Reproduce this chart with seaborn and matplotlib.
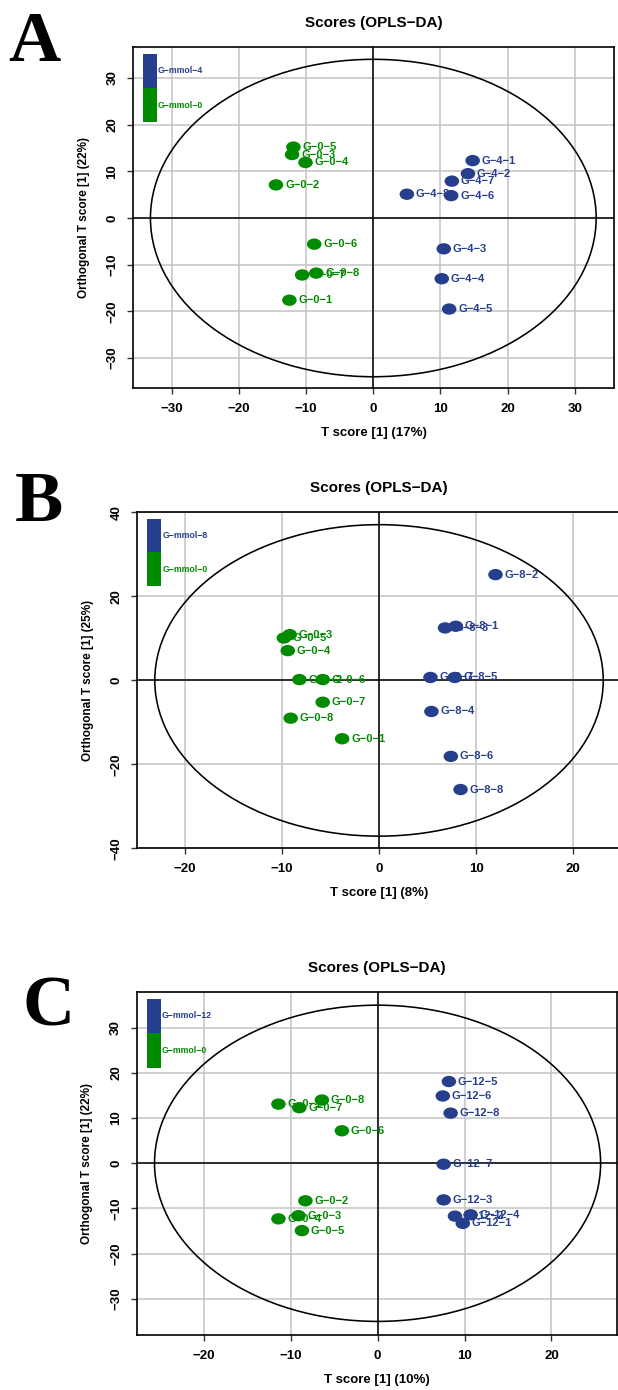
import numpy as np
import pandas as pd
import matplotlib
matplotlib.use("Agg")
import matplotlib.pyplot as plt
from matplotlib.patches import Ellipse, Rectangle
from matplotlib.path import Path
from matplotlib.transforms import Affine2D
import seaborn as sns

# ---- Panel A : G-mmol-4 vs G-mmol-0 ----
a_groups = ["G-mmol-4", "G-mmol-0"]
a_ctrl_names = ["G-0-1", "G-0-2", "G-0-3", "G-0-4", "G-0-5", "G-0-6", "G-0-7", "G-0-8"]
a_ctrl_t = [-12.5, -14.5, -12.1, -10.1, -11.9, -8.8, -10.6, -8.5]
a_ctrl_o = [-17.6, 7.1, 13.6, 11.9, 15.2, -5.6, -12.2, -11.8]
a_trt_names = ["G-4-1", "G-4-2", "G-4-3", "G-4-4", "G-4-5", "G-4-6", "G-4-7", "G-4-8"]
a_trt_t = [14.8, 14.1, 10.5, 10.2, 11.3, 11.6, 11.7, 5.0]
a_trt_o = [12.3, 9.5, -6.6, -13.0, -19.5, 4.8, 7.9, 5.1]
a_pct = (17, 22)
a_ellipse = (33.2, 34.0)

# ---- Panel B : G-mmol-8 vs G-mmol-0 ----
b_groups = ["G-mmol-8", "G-mmol-0"]
b_ctrl_names = ["G-0-1", "G-0-2", "G-0-3", "G-0-4", "G-0-5", "G-0-6", "G-0-7", "G-0-8"]
b_ctrl_t = [-3.8, -8.2, -9.2, -9.4, -9.8, -5.8, -5.8, -9.1]
b_ctrl_o = [-13.9, 0.2, 10.9, 7.1, 10.1, 0.2, -5.2, -9.0]
b_trt_names = ["G-8-1", "G-8-2", "G-8-3", "G-8-4", "G-8-5", "G-8-6", "G-8-7", "G-8-8"]
b_trt_t = [7.9, 12.0, 6.8, 5.4, 7.8, 7.4, 5.3, 8.4]
b_trt_o = [12.9, 25.2, 12.5, -7.4, 0.7, -18.1, 0.7, -26.0]
b_pct = (8, 25)
b_ellipse = (23.1, 37.1)

# ---- Panel C : G-mmol-12 vs G-mmol-0 ----
c_groups = ["G-mmol-12", "G-mmol-0"]
c_ctrl_names = ["G-0-1", "G-0-2", "G-0-3", "G-0-4", "G-0-5", "G-0-6", "G-0-7", "G-0-8"]
c_ctrl_t = [-11.4, -8.3, -9.1, -11.4, -8.7, -4.1, -9.0, -6.4]
c_ctrl_o = [13.1, -8.3, -11.6, -12.3, -14.9, 7.2, 12.3, 14.0]
c_trt_names = ["G-12-1", "G-12-2", "G-12-3", "G-12-4", "G-12-5", "G-12-6", "G-12-7", "G-12-8"]
c_trt_t = [9.8, 8.9, 7.6, 10.7, 8.2, 7.5, 7.6, 8.4]
c_trt_o = [-13.3, -11.7, -8.1, -11.4, 18.1, 14.9, -0.2, 11.1]
c_pct = (10, 22)
c_ellipse = (25.65, 35.0)

BLUE = "#263F8C"
GREEN = "#008B00"
MINUS = "\u2212"

sns.set_style("ticks")
plt.rcParams["font.family"] = ["Liberation Sans", "DejaVu Sans"]
plt.rcParams["font.weight"] = "bold"
plt.rcParams["axes.linewidth"] = 1.2
plt.rcParams["text.color"] = "black"
plt.rcParams["axes.labelcolor"] = "black"
plt.rcParams["xtick.labelcolor"] = "black"
plt.rcParams["ytick.labelcolor"] = "black"

# slightly flattened dot, like the stretched R output
dot = Path.unit_circle().transformed(Affine2D().scale(1.0, 0.78))


def panel(fig, rect, groups, ctrl, trt, pct, ell, xlim, ylim, xticks, yticks):
    ax = fig.add_axes(rect)
    df = pd.DataFrame({
        "name": trt[0] + ctrl[0],
        "t": trt[1] + ctrl[1],
        "o": trt[2] + ctrl[2],
        "group": [groups[0]] * len(trt[0]) + [groups[1]] * len(ctrl[0]),
    })
    ax.set_xlim(*xlim)
    ax.set_ylim(*ylim)
    ax.set_xticks(xticks)
    ax.set_yticks(yticks)
    ax.grid(True, color="#C4C4C4", lw=1.1)
    ax.set_axisbelow(True)
    ax.axhline(0, color="black", lw=1.1, zorder=1)
    ax.axvline(0, color="black", lw=1.1, zorder=1)
    ax.add_patch(Ellipse((0, 0), 2 * ell[0], 2 * ell[1], fill=False,
                         ec="black", lw=1.15, zorder=1.5))

    pal = {groups[0]: BLUE, groups[1]: GREEN}
    for _, r in df.iterrows():
        ax.annotate(r["name"].replace("-", MINUS), (r["t"], r["o"]),
                    xytext=(6.5, 0), textcoords="offset points",
                    va="center", ha="left", fontsize=8, fontweight="bold",
                    color=pal[r["group"]], zorder=2)
    sns.scatterplot(data=df, x="t", y="o", hue="group", palette=pal,
                    marker=dot, s=110, linewidth=0, legend=False, ax=ax, zorder=3)

    # colour bar legend, top-left
    ax.add_patch(Rectangle((0.021, 0.879), 0.029, 0.099, transform=ax.transAxes,
                           color=BLUE, lw=0, zorder=4))
    ax.add_patch(Rectangle((0.021, 0.779), 0.029, 0.100, transform=ax.transAxes,
                           color=GREEN, lw=0, zorder=4))
    ax.text(0.052, 0.93, groups[0].replace("-", MINUS), transform=ax.transAxes,
            fontsize=6.3, color=BLUE, va="center", zorder=5)
    ax.text(0.052, 0.829, groups[1].replace("-", MINUS), transform=ax.transAxes,
            fontsize=6.3, color=GREEN, va="center", zorder=5)

    ax.set_title("Scores (OPLS" + MINUS + "DA)", fontsize=11, fontweight="bold", pad=14)
    ax.set_xlabel("T score [1] (%d%%)" % pct[0], fontsize=9.5, fontweight="bold", labelpad=9)
    ax.set_ylabel("Orthogonal T score [1] (%d%%)" % pct[1], fontsize=8.5,
                  fontweight="bold", labelpad=12)
    ax.tick_params(length=4.5, width=1, pad=6, labelsize=9.5, color="#333333")
    for lab in ax.get_yticklabels():
        lab.set_rotation(90)
        lab.set_va("center")
    for sp in ax.spines.values():
        sp.set_visible(True)
        sp.set_color("black")
    return ax


fig = plt.figure(figsize=(6.18, 13.9), dpi=100)

panel(fig, [0.2152, 0.7209, 0.7788, 0.2455], a_groups,
      (a_ctrl_names, a_ctrl_t, a_ctrl_o), (a_trt_names, a_trt_t, a_trt_o),
      a_pct, a_ellipse, (-35.8, 35.9), (-36.4, 36.7),
      [-30, -20, -10, 0, 10, 20, 30], [-30, -20, -10, 0, 10, 20, 30])

panel(fig, [0.2222, 0.3897, 0.7822, 0.2422], b_groups,
      (b_ctrl_names, b_ctrl_t, b_ctrl_o), (b_trt_names, b_trt_t, b_trt_o),
      b_pct, b_ellipse, (-24.9, 24.9), (-40.0, 40.2),
      [-20, -10, 0, 10, 20], [-40, -20, 0, 20, 40])

panel(fig, [0.2212, 0.0396, 0.7767, 0.247], c_groups,
      (c_ctrl_names, c_ctrl_t, c_ctrl_o), (c_trt_names, c_trt_t, c_trt_o),
      c_pct, c_ellipse, (-27.7, 27.5), (-38.0, 38.0),
      [-20, -10, 0, 10, 20], [-30, -20, -10, 0, 10, 20, 30])

for letter, x, y in [("A", 8, 61), ("B", 15, 521), ("C", 23, 1026)]:
    fig.text(x / 618, 1 - y / 1390, letter, family=["Liberation Serif", "DejaVu Serif"],
             fontweight="bold", fontsize=52, color="black", ha="left", va="baseline")

fig.savefig("out.png", dpi=100)
